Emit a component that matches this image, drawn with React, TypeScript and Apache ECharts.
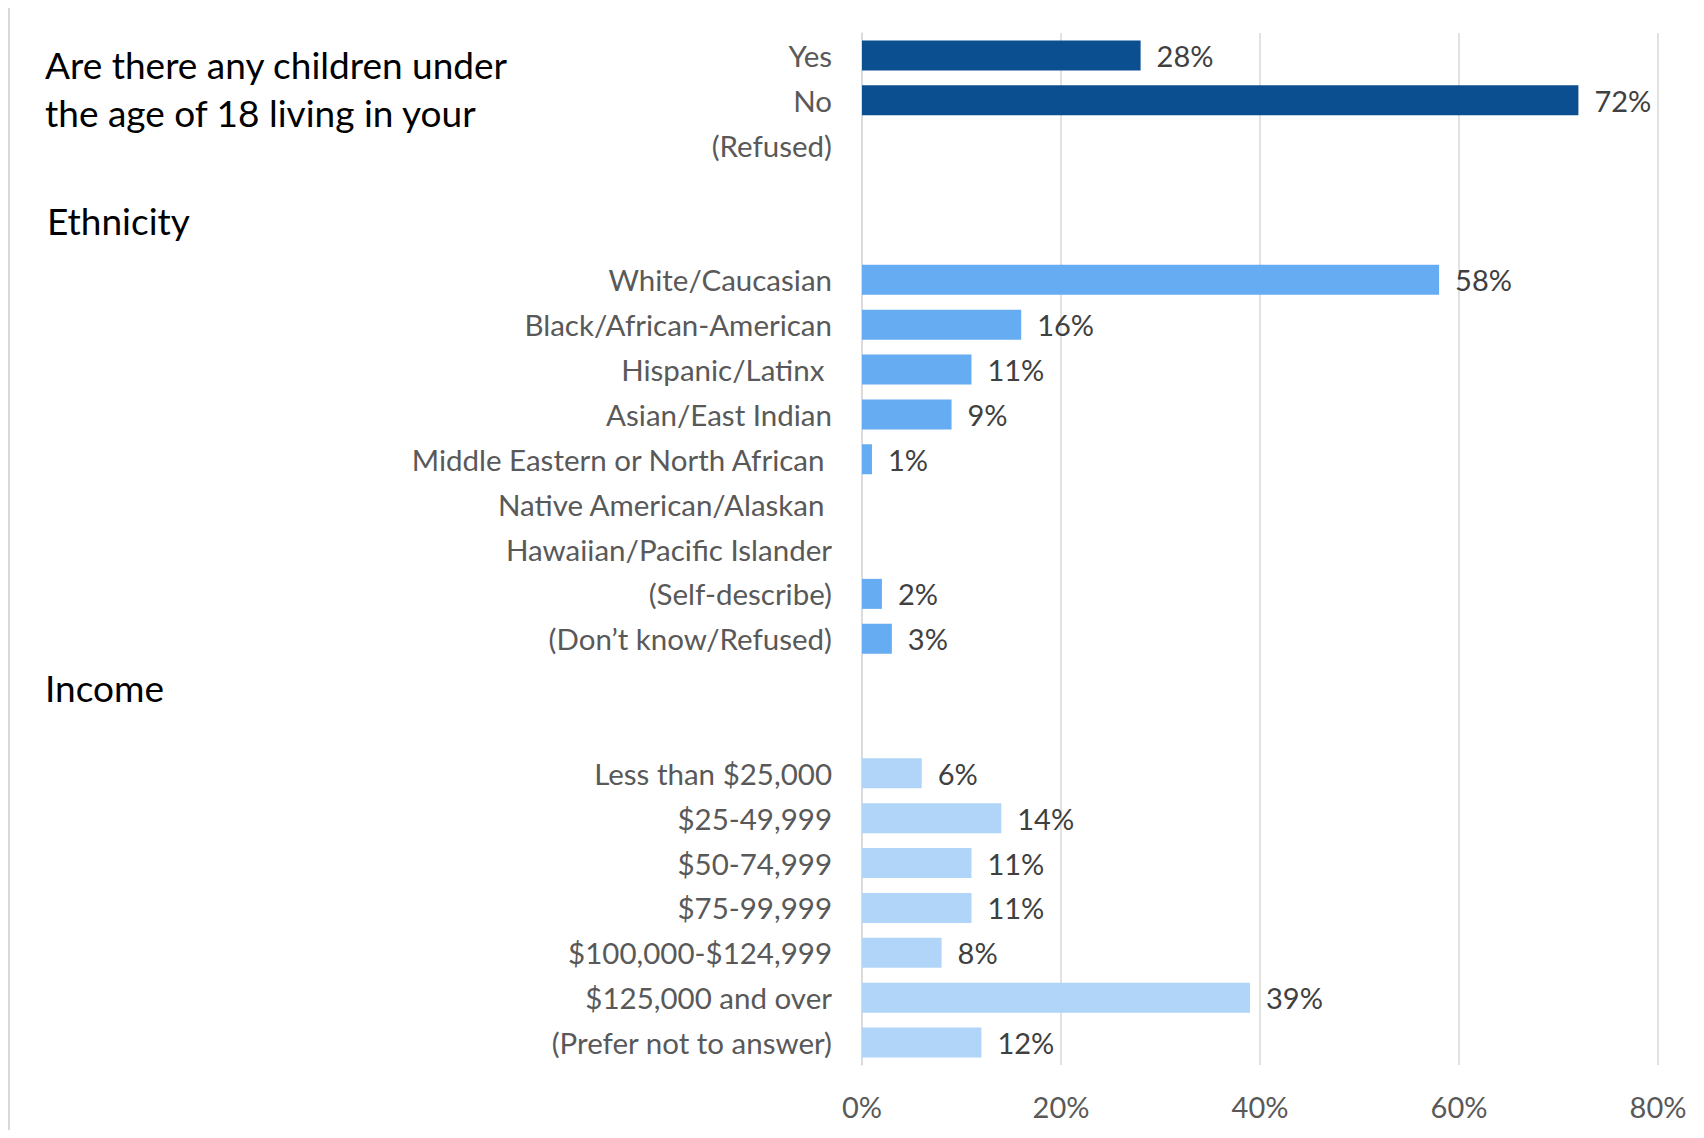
import React, { useEffect, useRef } from "react";
import * as echarts from "echarts";

const childrenCats = ["Yes", "No", "(Refused)"];
const childrenVals: (number | null)[] = [28, 72, null];

const ethnicityCats = [
  "White/Caucasian",
  "Black/African-American",
  "Hispanic/Latinx ",
  "Asian/East Indian",
  "Middle Eastern or North African ",
  "Native American/Alaskan ",
  "Hawaiian/Pacific Islander",
  "(Self-describe)",
  "(Don\u2019t know/Refused)",
];
const ethnicityVals: (number | null)[] = [58, 16, 11, 9, 1, null, null, 2, 3];

const incomeCats = [
  "Less than $25,000",
  "$25-49,999",
  "$50-74,999",
  "$75-99,999",
  "$100,000-$124,999",
  "$125,000 and over",
  "(Prefer not to answer)",
];
const incomeVals: (number | null)[] = [6, 14, 11, 11, 8, 39, 12];

const headingChildren = ["Are there any children under", "the age of 18 living in your"];
const headingEthnicity = "Ethnicity";
const headingIncome = "Income";

const xTicks = [0, 20, 40, 60, 80];

const COLORS = ["#0B4F91", "#65ACF2", "#B0D5F8"];
const FONT = "Lato, 'Open Sans', sans-serif";

export default function App() {
  const ref = useRef<HTMLDivElement>(null);

  useEffect(() => {
    if (!ref.current) return;
    const chart = echarts.init(ref.current, undefined, { renderer: "svg" });

    const cats: string[] = [];
    const data: any[] = [];
    const groups = [
      { c: childrenCats, v: childrenVals, color: COLORS[0] },
      { c: ethnicityCats, v: ethnicityVals, color: COLORS[1] },
      { c: incomeCats, v: incomeVals, color: COLORS[2] },
    ];
    let blank = 0;
    groups.forEach((g, gi) => {
      if (gi > 0) {
        for (let k = 0; k < 2; k++) {
          blank++;
          cats.push(" ".repeat(blank));
          data.push(null);
        }
      }
      g.c.forEach((c, i) => {
        cats.push(c);
        data.push(g.v[i] == null ? null : { value: g.v[i], itemStyle: { color: g.color } });
      });
    });

    chart.setOption({
      animation: false,
      backgroundColor: "#ffffff",
      grid: { left: 862, right: 46, top: 33, bottom: 73, containLabel: false },
      xAxis: {
        type: "value",
        min: 0,
        max: xTicks[xTicks.length - 1],
        interval: 20,
        axisLine: { show: false },
        axisTick: { show: false },
        splitLine: { lineStyle: { color: "#d9d9d9", width: 1.5 } },
        axisLabel: {
          formatter: "{value}%",
          color: "#595959",
          fontFamily: FONT,
          fontSize: 29,
          margin: 27,
        },
      },
      yAxis: {
        type: "category",
        inverse: true,
        data: cats,
        axisLine: { show: true, lineStyle: { color: "#d9d9d9", width: 1.5 } },
        axisTick: { show: false },
        axisLabel: {
          color: "#595959",
          fontFamily: FONT,
          fontSize: 29.5,
          margin: 30,
          interval: 0,
        },
      },
      series: [
        {
          type: "bar",
          data,
          barWidth: 30,
          label: {
            show: true,
            position: "right",
            distance: 16,
            formatter: (p: any) => (p.value == null ? "" : p.value + "%"),
            color: "#404040",
            fontFamily: FONT,
            fontSize: 29,
          },
        },
      ],
      graphic: [
        {
          type: "rect",
          shape: { x: 9, y: 5, width: 1720, height: 1160 },
          style: { fill: "none", stroke: "#d9d9d9", lineWidth: 2 },
          silent: true,
        },
        {
          type: "text",
          left: 45,
          top: 40,
          style: {
            text: headingChildren.join("\n"),
            fill: "#000000",
            font: `37px ${FONT}`,
            lineHeight: 48,
          },
        },
        {
          type: "text",
          left: 47,
          top: 196,
          style: { text: headingEthnicity, fill: "#000000", font: `37px ${FONT}`, lineHeight: 48 },
        },
        {
          type: "text",
          left: 45,
          top: 663,
          style: { text: headingIncome, fill: "#000000", font: `37px ${FONT}`, lineHeight: 48 },
        },
      ],
    });

    return () => chart.dispose();
  }, []);

  return <div ref={ref} style={{ width: 1704, height: 1138, margin: -8 }} />;
}
